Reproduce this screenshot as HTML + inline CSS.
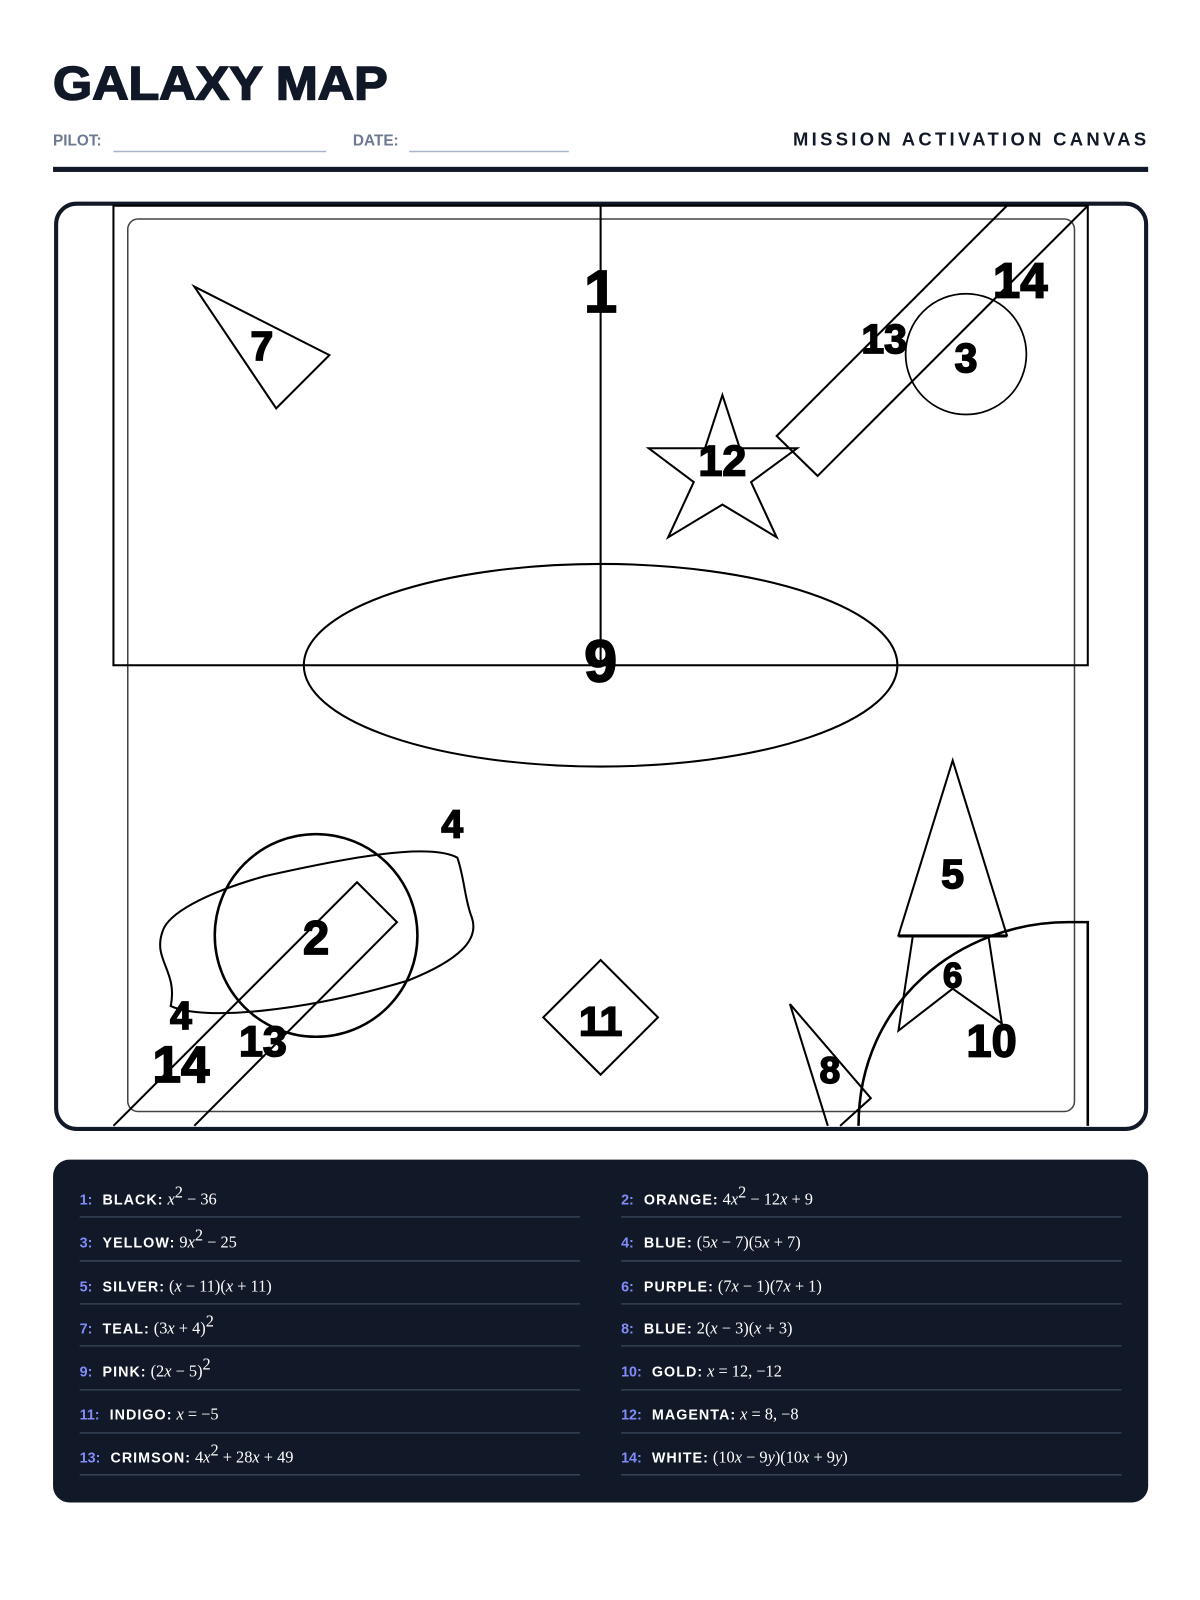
<!DOCTYPE html>
<html><head><meta charset="utf-8"><style>
html,body{margin:0;padding:0;background:#fff;}
svg{display:block;}
.lab{font-family:"Liberation Sans",sans-serif;font-weight:900;fill:#000;stroke:#000;stroke-width:1.6;text-anchor:middle;dominant-baseline:central;}
.ln{font-family:"Liberation Sans",sans-serif;font-size:14px;}
.num{fill:#818cf8;font-weight:bold;}
.nm{fill:#fff;font-weight:bold;letter-spacing:1px;}
.m{font-family:"Liberation Serif",serif;fill:#fff;font-size:16px;}
</style></head><body>
<svg width="1200" height="1600" viewBox="1.2 2 1172.4 1563.3" xmlns="http://www.w3.org/2000/svg">
<text x="53" y="99" font-family="Liberation Sans,sans-serif" font-weight="900" font-size="46" fill="#111827" stroke="#111827" stroke-width="1.5" textLength="327" lengthAdjust="spacingAndGlyphs">GALAXY MAP</text>
<text x="53" y="144" font-family="Liberation Sans,sans-serif" font-weight="bold" font-size="15" fill="#6b7a90">PILOT:</text>
<line x1="112" y1="150" x2="320" y2="150" stroke="#a8b4c8" stroke-width="1.5"/>
<text x="346" y="144" font-family="Liberation Sans,sans-serif" font-weight="bold" font-size="15" fill="#6b7a90">DATE:</text>
<line x1="401" y1="150" x2="557" y2="150" stroke="#a8b4c8" stroke-width="1.5"/>
<text x="776" y="144" font-family="Liberation Sans,sans-serif" font-weight="bold" font-size="18" fill="#111827" textLength="345" lengthAdjust="spacing">MISSION ACTIVATION CANVAS</text>
<rect x="53" y="165" width="1070" height="5" fill="#111827"/>

<rect x="56" y="201" width="1065" height="904" rx="20" fill="none" stroke="#111827" stroke-width="4"/>
<rect x="126" y="216" width="925" height="872" rx="10" fill="none" stroke="#444" stroke-width="1.5"/>

<g fill="none" stroke="#000" stroke-width="2">
<rect x="112" y="203" width="952" height="449"/>
<line x1="588" y1="203" x2="588" y2="652"/>
<ellipse cx="588" cy="652" rx="290" ry="99"/>
<polygon points="191,282 323,349 271,401"/>
<polygon points="707,388 724,440 780,440 735,473 760,527 707,495 654,527 679,473 635,440 690,440"/>
<polyline points="985,203 760,428 800,467 1064,203"/>
<circle cx="945" cy="348" r="59" stroke-width="1.7"/>
<circle cx="310" cy="916" r="99" stroke-width="2.5"/>
<path d="M160,912 C150,940 175,950 168,985 C200,1000 300,990 400,960 C450,940 470,920 462,898 C455,880 455,860 448,840 C420,825 340,840 260,858 C200,875 165,895 160,912 Z"/>
<polyline points="112,1102 350,864 389,903 191,1102"/>
<polygon points="588,940 644,996 588,1052 532,996"/>
<polygon points="932,745 985,916 879,916"/>
<polyline points="893,917 879,1009 932,968 980,1002 967,917"/>
<line x1="879" y1="917" x2="985" y2="917"/>
<polyline points="810,1102 773,983 852,1075 822,1102"/>
<path d="M840,1102 C840,980 940,903 1045,903 L1064,903 L1064,1102" stroke-width="2.5"/>
</g>

<text class="lab" x="588" y="287" font-size="58">1</text>
<text class="lab" x="998" y="277" font-size="48">14</text>
<text class="lab" x="865" y="333" font-size="40">13</text>
<text class="lab" x="945" y="352" font-size="40">3</text>
<text class="lab" x="707" y="453" font-size="42">12</text>
<text class="lab" x="257" y="340" font-size="40">7</text>
<text class="lab" x="588" y="648" font-size="58">9</text>
<text class="lab" x="443" y="808" font-size="38">4</text>
<text class="lab" x="178" y="995" font-size="38">4</text>
<text class="lab" x="310" y="918" font-size="46">2</text>
<text class="lab" x="258" y="1020" font-size="42">13</text>
<text class="lab" x="178" y="1042" font-size="50">14</text>
<text class="lab" x="588" y="1000" font-size="40">11</text>
<text class="lab" x="932" y="856" font-size="40">5</text>
<text class="lab" x="932" y="956" font-size="34">6</text>
<text class="lab" x="970" y="1019" font-size="44">10</text>
<text class="lab" x="812" y="1048" font-size="36">8</text>

<rect x="53" y="1135" width="1070" height="335" rx="16" fill="#111827"/>
<g stroke="#334155" stroke-width="1.5">
<line x1="79" y1="1191" x2="568" y2="1191"/><line x1="608" y1="1191" x2="1097" y2="1191"/>
<line x1="79" y1="1234" x2="568" y2="1234"/><line x1="608" y1="1234" x2="1097" y2="1234"/>
<line x1="79" y1="1276" x2="568" y2="1276"/><line x1="608" y1="1276" x2="1097" y2="1276"/>
<line x1="79" y1="1317" x2="568" y2="1317"/><line x1="608" y1="1317" x2="1097" y2="1317"/>
<line x1="79" y1="1360" x2="568" y2="1360"/><line x1="608" y1="1360" x2="1097" y2="1360"/>
<line x1="79" y1="1402" x2="568" y2="1402"/><line x1="608" y1="1402" x2="1097" y2="1402"/>
<line x1="79" y1="1443" x2="568" y2="1443"/><line x1="608" y1="1443" x2="1097" y2="1443"/>
</g>
<g class="ln">
<text x="79" y="1179"><tspan class="num">1:</tspan> <tspan class="nm" dx="6">BLACK:</tspan> <tspan class="m" font-style="italic">x</tspan><tspan class="m" font-size="10" dy="-7">2</tspan><tspan class="m" dy="7"> − 36</tspan></text>
<text x="608" y="1179"><tspan class="num">2:</tspan> <tspan class="nm" dx="6">ORANGE:</tspan> <tspan class="m">4<tspan font-style="italic">x</tspan></tspan><tspan class="m" font-size="10" dy="-7">2</tspan><tspan class="m" dy="7"> − 12<tspan font-style="italic">x</tspan> + 9</tspan></text>
<text x="79" y="1221"><tspan class="num">3:</tspan> <tspan class="nm" dx="6">YELLOW:</tspan> <tspan class="m">9<tspan font-style="italic">x</tspan></tspan><tspan class="m" font-size="10" dy="-7">2</tspan><tspan class="m" dy="7"> − 25</tspan></text>
<text x="608" y="1221"><tspan class="num">4:</tspan> <tspan class="nm" dx="6">BLUE:</tspan> <tspan class="m">(5<tspan font-style="italic">x</tspan> − 7)(5<tspan font-style="italic">x</tspan> + 7)</tspan></text>
<text x="79" y="1264"><tspan class="num">5:</tspan> <tspan class="nm" dx="6">SILVER:</tspan> <tspan class="m">(<tspan font-style="italic">x</tspan> − 11)(<tspan font-style="italic">x</tspan> + 11)</tspan></text>
<text x="608" y="1264"><tspan class="num">6:</tspan> <tspan class="nm" dx="6">PURPLE:</tspan> <tspan class="m">(7<tspan font-style="italic">x</tspan> − 1)(7<tspan font-style="italic">x</tspan> + 1)</tspan></text>
<text x="79" y="1305"><tspan class="num">7:</tspan> <tspan class="nm" dx="6">TEAL:</tspan> <tspan class="m">(3<tspan font-style="italic">x</tspan> + 4)</tspan><tspan class="m" font-size="10" dy="-7">2</tspan></text>
<text x="608" y="1305"><tspan class="num">8:</tspan> <tspan class="nm" dx="6">BLUE:</tspan> <tspan class="m">2(<tspan font-style="italic">x</tspan> − 3)(<tspan font-style="italic">x</tspan> + 3)</tspan></text>
<text x="79" y="1347"><tspan class="num">9:</tspan> <tspan class="nm" dx="6">PINK:</tspan> <tspan class="m">(2<tspan font-style="italic">x</tspan> − 5)</tspan><tspan class="m" font-size="10" dy="-7">2</tspan></text>
<text x="608" y="1347"><tspan class="num">10:</tspan> <tspan class="nm" dx="6">GOLD:</tspan> <tspan class="m"><tspan font-style="italic">x</tspan> = 12, −12</tspan></text>
<text x="79" y="1389"><tspan class="num">11:</tspan> <tspan class="nm" dx="6">INDIGO:</tspan> <tspan class="m"><tspan font-style="italic">x</tspan> = −5</tspan></text>
<text x="608" y="1389"><tspan class="num">12:</tspan> <tspan class="nm" dx="6">MAGENTA:</tspan> <tspan class="m"><tspan font-style="italic">x</tspan> = 8, −8</tspan></text>
<text x="79" y="1431"><tspan class="num">13:</tspan> <tspan class="nm" dx="6">CRIMSON:</tspan> <tspan class="m">4<tspan font-style="italic">x</tspan></tspan><tspan class="m" font-size="10" dy="-7">2</tspan><tspan class="m" dy="7"> + 28<tspan font-style="italic">x</tspan> + 49</tspan></text>
<text x="608" y="1431"><tspan class="num">14:</tspan> <tspan class="nm" dx="6">WHITE:</tspan> <tspan class="m">(10<tspan font-style="italic">x</tspan> − 9<tspan font-style="italic">y</tspan>)(10<tspan font-style="italic">x</tspan> + 9<tspan font-style="italic">y</tspan>)</tspan></text>
</g>
</svg>
</body></html>
